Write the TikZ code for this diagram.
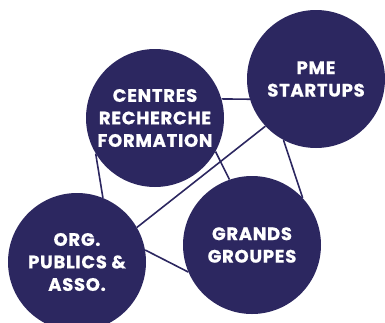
\documentclass[tikz,border=0pt]{standalone}
\usepackage{fontspec}
\setmainfont{Poppins}[BoldFeatures={LetterSpace=4,FakeBold=0.8}]
\usepackage{xcolor}
\usepackage{tikz}
\usetikzlibrary{positioning}
\definecolor{navy}{RGB}{44,39,96}
\tikzstyle{bubble} = [circle, fill=navy, text=white, minimum size=138pt, inner sep=0pt, align=center, font=\bfseries\fontsize{18}{22.5}\selectfont]
\tikzstyle{link}   = [draw=navy, line width=1.6pt]

\begin{document}
\begin{tikzpicture}[x=1pt, y=-1pt]
	\useasboundingbox (0,0) rectangle (385,322);
	\clip (0,0) rectangle (385,322);
	\node [bubble] (centres) at (155,118) {CENTRES\\RECHERCHE\\FORMATION};
	\node [bubble] (pme) at (316,79) {PME\\STARTUPS};
	\node [bubble] (org) at (77,262) {ORG.\\PUBLICS \&\\ASSO.};
	\node [bubble] (grands) at (252,245) {GRANDS\\GROUPES};
	\path [link] (centres.16) -- (pme.197);
	\path [link] (centres.-29) -- (grands.109);
	\path [link] (centres.211) -- (org.68);
	\path [link] (pme.223) -- (org.30);
	\path [link] (pme.242) -- (grands.43);
	\path [link] (org.10) -- (grands.203);
\end{tikzpicture}
\end{document}
